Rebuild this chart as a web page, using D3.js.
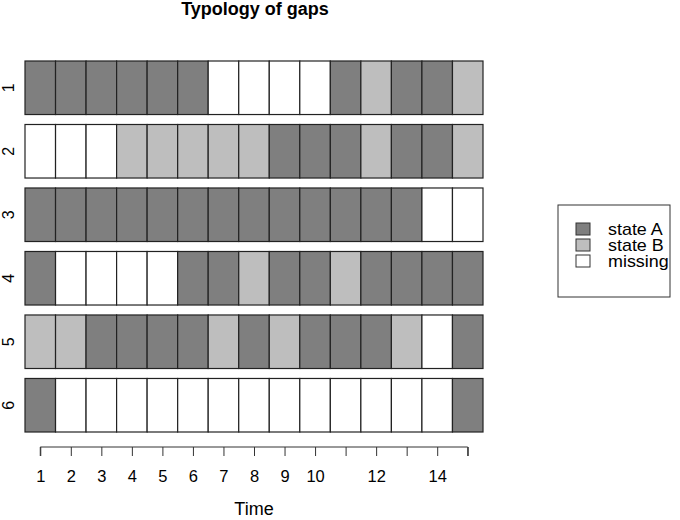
<!DOCTYPE html>
<html>
<head>
<meta charset="utf-8">
<script src="https://cdn.jsdelivr.net/npm/d3@7"></script>
<style>
  body { margin: 0; background: #fff; }
  text { font-family: "Liberation Sans", Arial, sans-serif; fill: #000; }
</style>
</head>
<body>
<div id="vis"></div>
<script>
// sequences, one per row: A = state A, B = state B, M = missing
var rowNames = ["1", "2", "3", "4", "5", "6"];
var times = d3.range(1, 16);
var seq1 = ["A","A","A","A","A","A","M","M","M","M","A","B","A","A","B"];
var seq2 = ["M","M","M","B","B","B","B","B","A","A","A","B","A","A","B"];
var seq3 = ["A","A","A","A","A","A","A","A","A","A","A","A","A","M","M"];
var seq4 = ["A","M","M","M","M","A","A","B","A","A","B","A","A","A","A"];
var seq5 = ["B","B","A","A","A","A","B","A","B","A","A","A","B","M","A"];
var seq6 = ["A","M","M","M","M","M","M","M","M","M","M","M","M","M","A"];
var sequences = [seq1, seq2, seq3, seq4, seq5, seq6];
var stateKeys = ["A", "B", "M"];
var stateLabels = ["state A", "state B", "missing"];
var tickLabels = ["1","2","3","4","5","6","7","8","9","10","","12","","14",""];

var width = 680, height = 520;

var svg = d3.select("#vis").append("svg")
  .attr("width", width)
  .attr("height", height);

var x = d3.scaleLinear().domain([0.5, 15.5]).range([25, 483]);
var y = d3.scaleBand().domain(rowNames).range([61, 432]).paddingInner(0.157);
var color = d3.scaleOrdinal().domain(stateKeys).range(["#7f7f7f", "#bebebe", "#ffffff"]);

// title
svg.append("text")
  .attr("x", 255).attr("y", 15)
  .attr("text-anchor", "middle")
  .style("font-weight", "bold")
  .style("font-size", "18px")
  .text("Typology of gaps");

// cells
var rows = svg.selectAll(".row")
  .data(sequences)
  .enter().append("g")
  .attr("class", "row")
  .attr("transform", function(d, i) { return "translate(0," + y(rowNames[i]) + ")"; });

rows.selectAll("rect")
  .data(function(d) { return d.map(function(s, j) { return { t: times[j], s: s }; }); })
  .enter().append("rect")
  .attr("x", function(d) { return x(d.t - 0.5); })
  .attr("y", 0)
  .attr("width", x(1.5) - x(0.5))
  .attr("height", y.bandwidth())
  .attr("fill", function(d) { return color(d.s); })
  .attr("stroke", "#222")
  .attr("stroke-width", 1.2);

// row labels (rotated like R)
svg.selectAll(".rowlab")
  .data(rowNames)
  .enter().append("text")
  .attr("class", "rowlab")
  .attr("transform", function(d) {
    return "translate(14," + (y(d) + y.bandwidth() / 2) + ") rotate(-90)";
  })
  .attr("text-anchor", "middle")
  .style("font-size", "16px")
  .text(function(d) { return d; });

// x axis
var xAxis = d3.axisBottom(x)
  .tickValues(times)
  .tickSize(9)
  .tickPadding(14)
  .tickFormat(function(d, i) { return tickLabels[i]; });

var axisG = svg.append("g")
  .attr("transform", "translate(0,447)")
  .call(xAxis);
axisG.select(".domain")
  .attr("d", "M" + x(1) + ",9V0H" + x(15) + "V9")
  .attr("stroke", "#333");
axisG.selectAll(".tick line").attr("stroke", "#333");
axisG.selectAll(".tick text")
  .style("font-family", "'Liberation Sans', Arial, sans-serif")
  .style("font-size", "16.5px")
  .attr("fill", "#000");

svg.append("text")
  .attr("x", 254).attr("y", 515)
  .attr("text-anchor", "middle")
  .style("font-size", "18px")
  .text("Time");

// legend
var legend = svg.append("g").attr("transform", "translate(558,205)");
legend.append("rect")
  .attr("width", 112).attr("height", 92)
  .attr("fill", "#fff").attr("stroke", "#333").attr("stroke-width", 1);

var items = legend.selectAll(".item")
  .data(stateKeys)
  .enter().append("g")
  .attr("transform", function(d, i) { return "translate(18," + (24 + i * 16) + ")"; });

items.append("rect")
  .attr("x", 0).attr("y", -6)
  .attr("width", 14).attr("height", 12)
  .attr("fill", function(d) { return color(d); })
  .attr("stroke", "#333");

// the reference's legend text is a bit wider than it is tall
items.append("text")
  .attr("transform", "translate(32,6) scale(1.12,1)")
  .style("font-size", "16px")
  .text(function(d, i) { return stateLabels[i]; });
</script>
</body>
</html>
